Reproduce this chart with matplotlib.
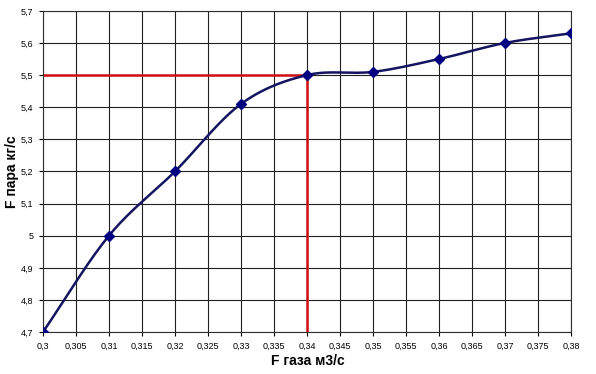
import numpy as np
import matplotlib
matplotlib.use("Agg")
import matplotlib.pyplot as plt

plt.rcParams['font.family'] = ['Liberation Sans', 'DejaVu Sans']

# данные с графика
f_gaza = [0.30, 0.31, 0.32, 0.33, 0.34, 0.35, 0.36, 0.37, 0.38]
f_para = [4.70, 5.00, 5.20, 5.41, 5.50, 5.51, 5.55, 5.60, 5.63]
x_ticks = [0.3, 0.305, 0.31, 0.315, 0.32, 0.325, 0.33, 0.335, 0.34, 0.345,
           0.35, 0.355, 0.36, 0.365, 0.37, 0.375, 0.38]
y_ticks = [4.7, 4.8, 4.9, 5.0, 5.1, 5.2, 5.3, 5.4, 5.5, 5.6, 5.7]
x_mark = 0.34
y_mark = 5.5


def sglazhivanie(x, y, n=30):
    # сглаженная линия как в Excel (Catmull-Rom)
    x = np.asarray(x, float)
    y = np.asarray(y, float)
    px = np.concatenate([[2 * x[0] - x[1]], x, [2 * x[-1] - x[-2]]])
    py = np.concatenate([[2 * y[0] - y[1]], y, [2 * y[-1] - y[-2]]])
    xs, ys = [], []
    t = np.linspace(0, 1, n)
    for i in range(1, len(px) - 2):
        for p, out in ((px, xs), (py, ys)):
            p0, p1, p2, p3 = p[i - 1], p[i], p[i + 1], p[i + 2]
            out.extend(0.5 * ((2 * p1) + (-p0 + p2) * t
                              + (2 * p0 - 5 * p1 + 4 * p2 - p3) * t ** 2
                              + (-p0 + 3 * p1 - 3 * p2 + p3) * t ** 3))
    return xs, ys


def fmt(v):
    s = ("%.3f" % v).rstrip("0").rstrip(".")
    return s.replace(".", ",")


fig = plt.figure(figsize=(5.96, 3.74), dpi=100)
ax = fig.add_axes([0.072, 0.112, 0.886, 0.859])

ax.plot([f_gaza[0], x_mark], [y_mark, y_mark], color="#d01010", lw=1.8, zorder=2)
ax.plot([x_mark, x_mark], [y_ticks[0], y_mark], color="#d01010", lw=1.8, zorder=2)

sx, sy = sglazhivanie(f_gaza, f_para)
ax.plot(sx, sy, color="#141460", lw=1.8, zorder=3)
ax.plot(f_gaza, f_para, ls="none", marker="D", ms=5, color="#000080", zorder=4)

ax.set_xlim(0.3, 0.38)
ax.set_ylim(4.7, 5.7)
ax.set_xticks(x_ticks)
ax.set_xticklabels([fmt(v) for v in x_ticks])
ax.set_yticks(y_ticks)
ax.set_yticklabels([fmt(v) for v in y_ticks])
ax.tick_params(labelsize=6.5, length=3, width=0.8, color="black", pad=4)
ax.grid(True, color="#202020", lw=0.8)
ax.set_axisbelow(True)
for s in ax.spines.values():
    s.set_color("#303030")
    s.set_linewidth(0.8)

# подписи осей
fig.text(308 / 596, 1 - 361 / 374, "F газа м3/с", fontsize=10, fontweight="bold",
         ha="center", va="center")
fig.text(12 / 596, 1 - 172 / 374, "F пара кг/с", fontsize=10, fontweight="bold",
         ha="center", va="center", rotation=90)

fig.savefig("out.png", dpi=100)
